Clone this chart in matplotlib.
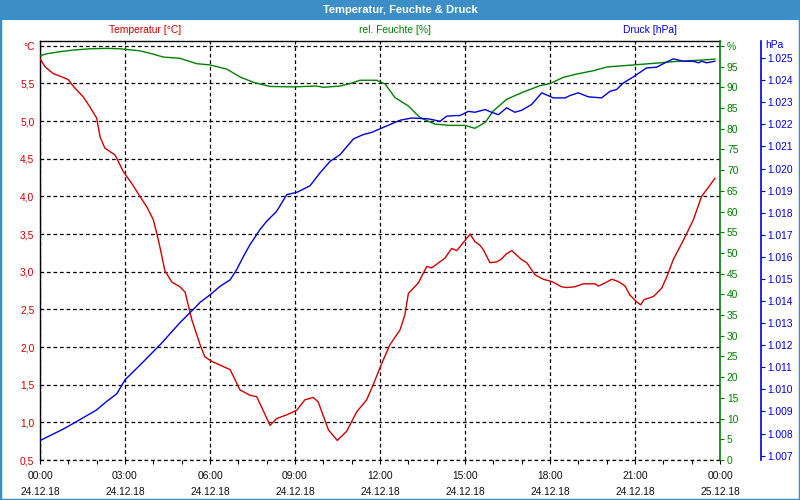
import matplotlib
matplotlib.use("Agg")
import matplotlib.pyplot as plt
from matplotlib.patches import Rectangle
from matplotlib.ticker import FixedLocator, MultipleLocator

# Zeitachse in Stunden ab 24.12.18 00:00
tick_hours = [0, 3, 6, 9, 12, 15, 18, 21, 24]
tick_times = ["00:00", "03:00", "06:00", "09:00", "12:00", "15:00", "18:00", "21:00", "00:00"]
tick_dates = ["24.12.18"] * 8 + ["25.12.18"]

# Temperatur [°C]
temp_h = [0.0, 0.18, 0.47, 0.82, 1.0, 1.18, 1.53, 1.76, 2.0, 2.12, 2.29, 2.65, 2.94, 3.24,
          3.53, 3.77, 4.0, 4.18, 4.41, 4.66, 4.94, 5.12, 5.36, 5.65, 5.82, 6.06, 6.71, 7.06,
          7.41, 7.65, 8.12, 8.35, 8.71, 9.06, 9.35, 9.65, 9.82, 10.18, 10.49, 10.82, 11.18,
          11.53, 11.76, 12.06, 12.35, 12.71, 12.88, 13.0, 13.35, 13.65, 13.82, 14.29, 14.53,
          14.71, 15.18, 15.35, 15.53, 15.65, 15.88, 16.12, 16.29, 16.47, 16.65, 17.0, 17.18,
          17.47, 17.76, 18.06, 18.41, 18.59, 18.88, 19.18, 19.59, 19.71, 19.94, 20.18, 20.41,
          20.65, 20.82, 21.06, 21.2, 21.32, 21.65, 21.94, 22.12, 22.35, 22.71, 23.06, 23.35,
          23.53, 23.82]
temp_v = [5.83, 5.72, 5.63, 5.58, 5.55, 5.46, 5.32, 5.19, 5.04, 4.79, 4.64, 4.55, 4.33, 4.17,
          4.0, 3.86, 3.69, 3.42, 3.01, 2.86, 2.80, 2.73, 2.36, 2.03, 1.87, 1.81, 1.70, 1.43,
          1.36, 1.34, 0.96, 1.05, 1.10, 1.16, 1.30, 1.33, 1.27, 0.90, 0.76, 0.88, 1.14,
          1.30, 1.50, 1.78, 2.03, 2.23, 2.43, 2.71, 2.85, 3.07, 3.05, 3.18, 3.31,
          3.28, 3.50, 3.40, 3.35, 3.29, 3.12, 3.13, 3.17, 3.24, 3.28, 3.16, 3.12,
          2.96, 2.90, 2.87, 2.80, 2.79, 2.80, 2.84, 2.84, 2.81, 2.85, 2.90, 2.87,
          2.81, 2.69, 2.60, 2.56, 2.63, 2.67, 2.78, 2.93, 3.16, 3.42, 3.69, 4.0,
          4.09, 4.24]

# rel. Feuchte [%]
hum_h = [0.0, 0.24, 0.71, 1.18, 1.76, 2.35, 2.82, 3.53, 4.0, 4.35, 4.94, 5.53, 6.0, 6.59,
         7.06, 7.53, 8.12, 8.94, 9.76, 10.0, 10.59, 10.94, 11.29, 11.88, 12.18, 12.53, 13.0,
         13.41, 13.94, 14.47, 15.0, 15.35, 15.71, 16.0, 16.47, 17.0, 17.65, 18.0, 18.47,
         18.94, 19.53, 20.0, 20.94, 21.88, 22.35, 23.41, 23.82]
hum_v = [97.6, 98.1, 98.6, 99.0, 99.3, 99.4, 99.3, 98.8, 98.0, 97.3, 97.0, 95.7, 95.4, 94.4,
         92.5, 91.2, 90.2, 90.1, 90.3, 90.0, 90.3, 90.9, 91.7, 91.7, 90.8, 87.5, 85.5,
         82.7, 81.1, 80.8, 80.8, 80.1, 81.5, 84.3, 87.1, 88.7, 90.4, 90.9, 92.4,
         93.2, 94.0, 94.9, 95.4, 95.9, 96.2, 96.6, 96.8]

# Druck [hPa]
pres_h = [0.0, 0.82, 1.29, 2.0, 2.35, 2.71, 3.0, 3.53, 4.24, 4.94, 5.47, 5.65, 6.0, 6.35,
          6.71, 6.94, 7.18, 7.41, 7.53, 7.76, 8.0, 8.35, 8.71, 9.06, 9.53, 9.88, 10.24, 10.59,
          11.06, 11.41, 11.71, 12.0, 12.71, 13.12, 13.71, 13.94, 14.12, 14.35, 14.65, 14.82,
          15.12, 15.35, 15.71, 15.94, 16.18, 16.47, 16.76, 17.0, 17.35, 17.71, 18.12, 18.53,
          18.71, 19.0, 19.35, 19.82, 20.12, 20.35, 20.59, 20.94, 21.41, 21.76, 22.06, 22.35,
          22.71, 23.06, 23.24, 23.35, 23.53, 23.82]
pres_v = [1007.68, 1008.20, 1008.54, 1009.07, 1009.45, 1009.80, 1010.43, 1011.10, 1012.02,
          1013.02, 1013.70, 1013.94, 1014.28, 1014.66, 1014.96, 1015.42, 1016.02, 1016.55,
          1016.78, 1017.23, 1017.61, 1018.06, 1018.82, 1018.92, 1019.22, 1019.80, 1020.33,
          1020.63, 1021.34, 1021.54, 1021.64, 1021.80, 1022.19, 1022.29, 1022.25, 1022.19,
          1022.14, 1022.37, 1022.40, 1022.40, 1022.59, 1022.55, 1022.67, 1022.55, 1022.44,
          1022.75, 1022.55, 1022.64, 1022.90, 1023.43, 1023.20, 1023.20, 1023.31, 1023.43,
          1023.25, 1023.20, 1023.50, 1023.58, 1023.88, 1024.15, 1024.56, 1024.59, 1024.79,
          1024.97, 1024.86, 1024.86, 1024.79, 1024.86, 1024.79, 1024.86]

temp_ticks = [0.5, 1.0, 1.5, 2.0, 2.5, 3.0, 3.5, 4.0, 4.5, 5.0, 5.5, 6.0]
hum_ticks = list(range(0, 101, 5))
pres_ticks = list(range(1007, 1026))

RED = "#d00000"
GREEN = "#008000"
BLUE = "#0000dd"
FRAME = "#3c8fc6"
GRID_STYLE = dict(color="black", lw=0.9, linestyle=(0, (3, 2.2)))

plt.rcParams["font.family"] = "Liberation Sans"
plt.rcParams["font.size"] = 7.4

fig = plt.figure(figsize=(8, 5), dpi=100, facecolor="white")
ax = fig.add_axes([40 / 800, 40 / 500, 680 / 800, 419.5 / 500])

# Titelleiste und Rahmen
fig.patches.append(Rectangle((0, 1 - 20 / 500), 1, 20 / 500, transform=fig.transFigure,
                             facecolor=FRAME, edgecolor="none", zorder=0))
fig.patches.append(Rectangle((0, 0), 1, 1, transform=fig.transFigure, fill=False,
                             edgecolor=FRAME, lw=2.5, zorder=0))
fig.text(0.5, 1 - 10 / 500, "Temperatur, Feuchte & Druck", color="white", weight="bold",
         ha="center", va="center", fontsize=8)
fig.text(145 / 800, 1 - 30 / 500, "Temperatur [°C]", color=RED, ha="center", va="center")
fig.text(395 / 800, 1 - 30 / 500, "rel. Feuchte [%]", color=GREEN, ha="center", va="center")
fig.text(650 / 800, 1 - 30 / 500, "Druck [hPa]", color=BLUE, ha="center", va="center")

# Temperatur-Achse (links) mit Gitter
ax.plot(temp_h, temp_v, color=RED, lw=1.0, zorder=3)
ax.set_xlim(0, 24)
ax.set_ylim(0.5, 6.07)
ax.yaxis.set_major_locator(FixedLocator(temp_ticks))
ax.set_yticklabels(["°C" if t == 6.0 else f"{t:.1f}".replace(".", ",") for t in temp_ticks])
ax.tick_params(axis="y", length=0, pad=4, labelcolor=RED)
ax.xaxis.set_major_locator(FixedLocator(tick_hours))
ax.xaxis.set_minor_locator(MultipleLocator(1))
ax.set_xticklabels([f"{t}\n{d}" for t, d in zip(tick_times, tick_dates)])
ax.tick_params(axis="x", which="both", length=3, width=0.8, direction="out", pad=5,
               labelcolor="#101010")
for lab in ax.get_xticklabels():
    lab.set_linespacing(1.75)
ax.grid(True, axis="both", **GRID_STYLE)
ax.axhline(temp_ticks[0], clip_on=False, zorder=2, **GRID_STYLE)
ax.spines["right"].set_visible(False)
ax.spines["bottom"].set_visible(False)
ax.spines["left"].set_linewidth(1.0)
ax.spines["top"].set_linewidth(1.0)

# Feuchte-Achse (rechts)
ax2 = ax.twinx()
ax2.plot(hum_h, hum_v, color=GREEN, lw=1.0, zorder=3)
ax2.set_ylim(0, 101.3)
ax2.yaxis.set_major_locator(FixedLocator(hum_ticks))
ax2.set_yticklabels(["%" if h == 100 else str(h) for h in hum_ticks])
ax2.tick_params(axis="y", length=3, width=0.8, color=GREEN, labelcolor=GREEN, pad=2)
for s in ["left", "top", "bottom"]:
    ax2.spines[s].set_visible(False)
ax2.spines["right"].set_color(GREEN)
ax2.spines["right"].set_linewidth(1.2)

# Druck-Achse (weiter rechts)
ax3 = ax.twinx()
ax3.plot(pres_h, pres_v, color=BLUE, lw=1.0, zorder=3)
ax3.set_ylim(1006.8, 1025.8)
ax3.spines["right"].set_position(("axes", 1.06))
ax3.yaxis.set_major_locator(FixedLocator(pres_ticks))
ax3.set_yticklabels([f"{p / 1000:.3f}" for p in pres_ticks])
ax3.tick_params(axis="y", length=3, width=0.8, color=BLUE, labelcolor=BLUE, pad=2)
for s in ["left", "top", "bottom"]:
    ax3.spines[s].set_visible(False)
ax3.spines["right"].set_color(BLUE)
ax3.spines["right"].set_linewidth(1.2)
ax3.text(1.066, 0.99, "hPa", transform=ax3.transAxes, color=BLUE, ha="left", va="center")

fig.savefig("out.png", dpi=100, facecolor="white")
